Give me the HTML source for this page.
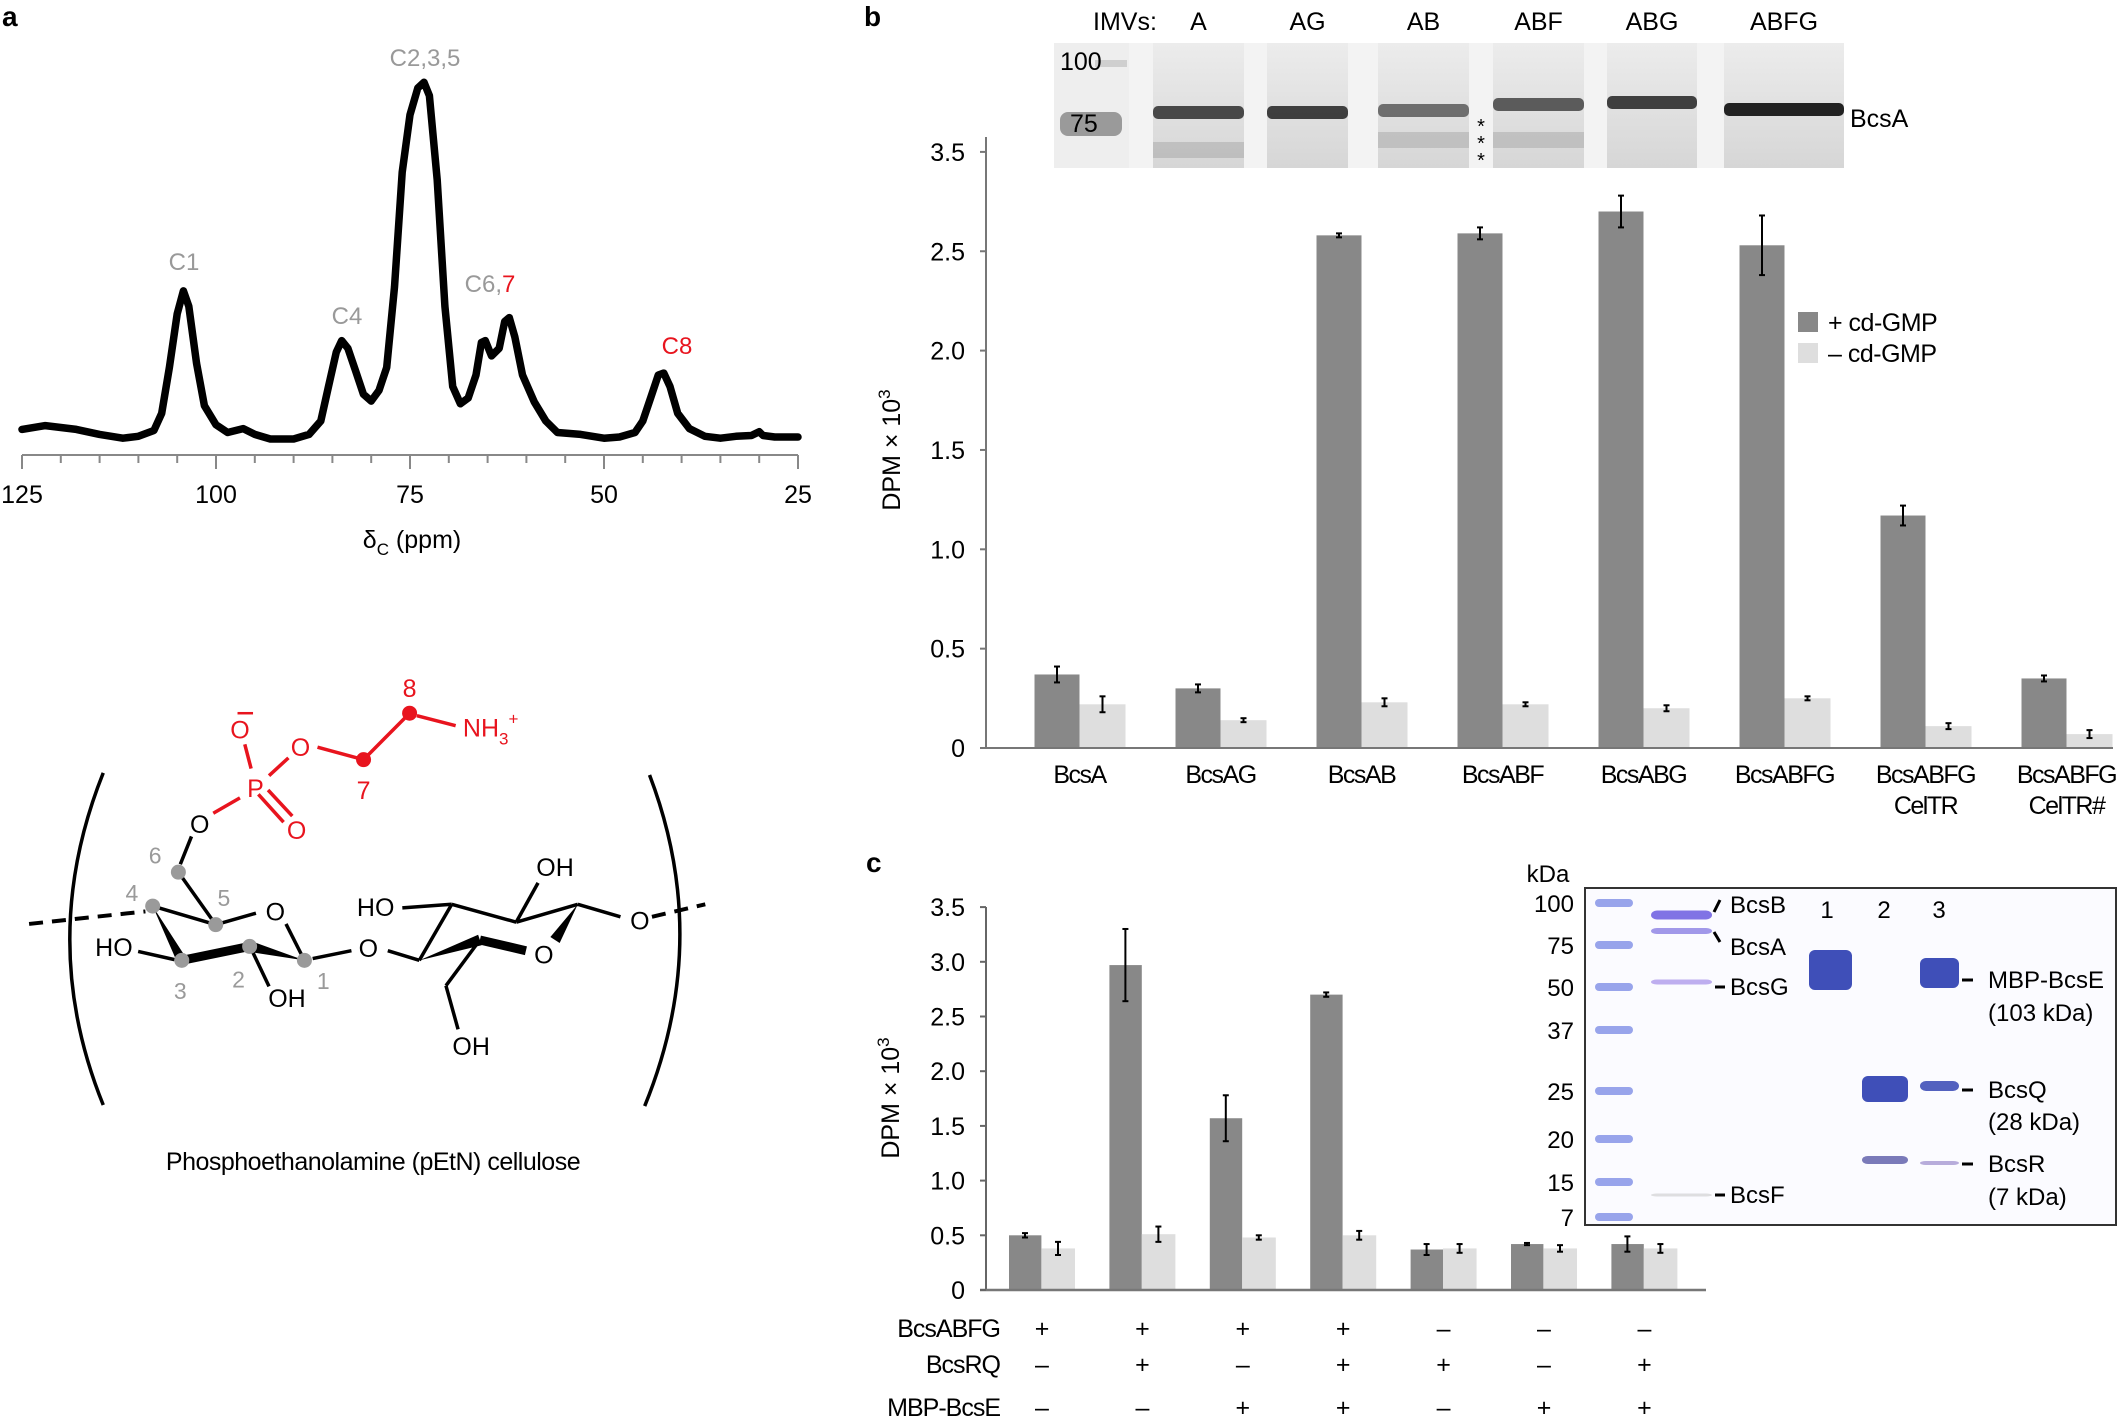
<!DOCTYPE html>
<html><head><meta charset="utf-8">
<style>
html,body{margin:0;padding:0;background:#fff;}
body{width:2119px;height:1417px;position:relative;overflow:hidden;font-family:"Liberation Sans",sans-serif;}
svg{position:absolute;left:0;top:0;}
</style></head>
<body>
<svg id="fig" width="2119" height="1417" viewBox="0 0 2119 1417" xmlns="http://www.w3.org/2000/svg" font-family="Liberation Sans, sans-serif">
<defs>
<linearGradient id="laneg" x1="0" y1="0" x2="0" y2="1">
<stop offset="0" stop-color="#ececec"/><stop offset="1" stop-color="#d6d6d6"/>
</linearGradient>
</defs>
<text x="2" y="26" font-size="28" font-weight="bold">a</text>
<text x="864" y="26" font-size="28" font-weight="bold">b</text>
<text x="866" y="872" font-size="28" font-weight="bold">c</text>
<g id="pa"></g>
<g id="chem"></g>
<g id="gelb"></g>
<g id="pb"></g>
<g id="pc"></g>
<g id="gelc"></g>
</svg>
<script>
const NS='http://www.w3.org/2000/svg';
function mk(tag,attrs,parent,txt){const e=document.createElementNS(NS,tag);for(const k in attrs)e.setAttribute(k,attrs[k]);if(txt!==undefined)e.textContent=txt;parent.appendChild(e);return e;}

/* ---------- Panel a: NMR spectrum ---------- */
const ppmValues=[125,122,118,115,112,110,108,107,106,105,104.2,103.5,102.5,101.5,100,98.5,96.5,95,93,90,88,86.5,85.5,84.5,83.8,83,82,81,80,79,78,77,76,75,74,73.2,72.5,71.5,70.5,69.5,68.5,67.5,66.5,65.8,65.3,64.5,63.5,62.8,62.2,61.5,60.5,59,57.5,56,53,50,48,46,45,44,43,42.3,41.5,40.5,39,37,35,33,31,30,29.5,28,25];
const intensities=[2.8,3.8,2.8,1.5,0.5,1,2.5,7,19,33,39,35,20,9,4,2,3,1.5,0.3,0.3,1.5,5,14,23,26,24,18,12,10.2,13,19,40,70,85,92,93.5,90,68,35,14,9.5,11,17,25.5,26,22,24,31,32,27,17,10,5,2,1.5,0.5,0.8,2,5,11,17,17.5,14,7,3,1,0.5,1,1.2,2.2,1.2,0.8,0.8];
const ppmTicksMajor=[125,100,75,50,25];
const pa=document.getElementById('pa');
const xA=p=>22+(125-p)*7.76;
const yA=v=>(1150-v*10)/2.613;
{
 let d='';ppmValues.forEach((p,i)=>{d+=(i?'L':'M')+xA(p).toFixed(1)+' '+yA(intensities[i]).toFixed(1);});
 const s=mk('path',{d:d,fill:'none',stroke:'#000','stroke-width':7.5,'stroke-linejoin':'round','stroke-linecap':'round'},pa);
 
 
 const ax=mk('line',{x1:xA(125),x2:xA(25),y1:455,y2:455,stroke:'#888','stroke-width':2},pa);
 
 
 for(let p=125;p>=25;p-=5){
  const major=ppmTicksMajor.includes(p);
  const t=mk('line',{x1:xA(p),x2:xA(p),y1:455,y2:major?469:463,stroke:'#888','stroke-width':2},pa);
  
  
 }
 ppmTicksMajor.forEach(p=>{
  const t=mk('text',{x:xA(p),y:503,'font-size':25,'text-anchor':'middle'},pa,String(p));
  
  
 });
 const tt=mk('text',{x:412,y:548,'font-size':25,'text-anchor':'middle'},pa);
 
 
 tt.innerHTML='δ<tspan font-size="17" dy="7">C</tspan><tspan dy="-7"> (ppm)</tspan>';
 const labs=[['C1',184,270,'#999'],['C4',347,324,'#999'],['C2,3,5',425,66,'#999'],['C8',677,354,'#e8141e']];
 labs.forEach(l=>{const t=mk('text',{x:l[1],y:l[2],'font-size':24,'text-anchor':'middle',fill:l[3]},pa,l[0]);
  
  });
 const c67=mk('text',{x:490,y:292,'font-size':24,'text-anchor':'middle',fill:'#999'},pa);
 
 
 c67.innerHTML='C6,<tspan fill="#e8141e">7</tspan>';
}

/* ---------- Chemical structure ---------- */
const chem=document.getElementById('chem');
const P=(x,y)=>[x/2.063,640+y/2.8];
function bond(a,b,c,d,col,w,dash){const p=P(a,b),q=P(c,d);const e=mk('line',{x1:p[0],y1:p[1],x2:q[0],y2:q[1],stroke:col||'#000','stroke-width':w||3.5},chem);if(dash)e.setAttribute('stroke-dasharray',dash);return e;}
function wedge(a,b,c,d,w){const p=P(a,b),q=P(c,d);const dx=q[0]-p[0],dy=q[1]-p[1],L=Math.hypot(dx,dy),nx=-dy/L*w/2,ny=dx/L*w/2;
 const e=mk('polygon',{points:`${p[0]},${p[1]} ${q[0]+nx},${q[1]+ny} ${q[0]-nx},${q[1]-ny}`,fill:'#000'},chem);}
function thick(a,b,c,d){bond(a,b,c,d,'#000',9);}
function lab(t,x,y,col,size){const p=P(x,y);const e=mk('text',{x:p[0],y:p[1]+9,'font-size':size||25,'text-anchor':'middle',fill:col||'#000'},chem,t);return e;}
function dot(x,y,col){const p=P(x,y);const e=mk('circle',{cx:p[0],cy:p[1],r:7.5,fill:col},chem);}
{const a=P(213,372),m=P(75,840),b=P(213,1302);const e=mk('path',{d:`M${a[0]} ${a[1]} Q${m[0]} ${m[1]} ${b[0]} ${b[1]}`,fill:'none',stroke:'#000','stroke-width':3.5},chem);
 const c=P(1340,378),n=P(1470,840),d=P(1330,1305);const f=mk('path',{d:`M${c[0]} ${c[1]} Q${n[0]} ${n[1]} ${d[0]} ${d[1]}`,fill:'none',stroke:'#000','stroke-width':3.5},chem);}
bond(60,795,300,760,'#000',4,'14 9');
bond(315,745,445,797);bond(445,797,528,765);bond(590,795,628,897);
bond(368,650,445,797);bond(372,628,395,550);
wedge(315,745,375,897,10);thick(375,897,515,858);wedge(628,897,515,858,11);
bond(285,872,360,895);bond(520,870,555,970);bond(645,892,725,870);
bond(800,870,865,897);bond(865,897,932,740);bond(830,750,932,740);bond(932,740,1065,790);
bond(1065,790,1110,680);bond(1065,790,1192,740);bond(1192,740,1280,775);
bond(1345,775,1455,740,'#000',4,'14 9');wedge(1192,740,1145,840,11);
wedge(865,897,990,840,11);thick(990,840,1085,870);bond(990,840,920,968);bond(920,968,945,1090);
lab('O',568,760);lab('O',412,515);lab('HO',235,860);lab('OH',592,1002);lab('O',760,862);lab('HO',775,748);lab('OH',1145,636);lab('O',1320,785);lab('O',1122,880);lab('OH',972,1137);
const R='#e8141e';
bond(518,360,505,292,R);bond(555,380,595,330,R);bond(655,300,750,335,R);bond(750,335,845,205,R);bond(860,212,940,240,R);bond(495,442,440,485,R);
bond(533,432,585,510,R);bond(553,420,603,493,R);
lab('P',527,415,R);lab('O',495,250,R);lab('O',620,300,R);lab('O',612,532,R);
{const p=P(490,205),q=P(522,205);const e=mk('line',{x1:p[0],y1:p[1],x2:q[0],y2:q[1],stroke:R,'stroke-width':2.5},chem);}
{const p=P(955,245);const e=mk('text',{x:p[0],y:p[1]+9,'font-size':25,fill:R},chem);e.innerHTML='NH<tspan font-size="17" dy="8">3</tspan><tspan font-size="17" dy="-20">+</tspan>';}
dot(750,335,R);dot(845,205,R);
lab('8',845,135,R);lab('7',750,420,R);
const G='#9a9a9a';
[[368,650],[315,745],[445,797],[375,897],[515,858],[628,897]].forEach(c=>dot(c[0],c[1],G));
lab('6',320,600,G,23);lab('4',272,705,G,23);lab('5',462,720,G,23);lab('3',372,980,G,23);lab('2',492,948,G,23);lab('1',667,952,G,23);
{const e=mk('text',{x:373,y:1170,'font-size':25,'text-anchor':'middle','letter-spacing':'-0.5'},chem,'Phosphoethanolamine (pEtN) cellulose');}

/* ---------- Gel b ---------- */
const gelb=document.getElementById('gelb');
{
 const bg=mk('rect',{x:1054,y:43,width:790,height:125,fill:'#f3f3f3'},gelb);
 
 
 const mkr=mk('rect',{x:1054,y:43,width:75,height:125,fill:'#eeeeee'},gelb);
 
 
 const mb=mk('rect',{x:1060,y:112,width:62,height:24,rx:8,fill:'#9a9a9a'},gelb);
 
 
 const mb2=mk('rect',{x:1095,y:60,width:32,height:7,fill:'#cfcfcf'},gelb);
 
 
 const lanes=[[1153,1244,0.8],[1267,1348,0.85],[1378,1469,0.6],[1493,1584,0.7],[1607,1697,0.85],[1724,1844,1]];
 const bandY=[112,112,110,104,102,109];
 const lnames=['A','AG','AB','ABF','ABG','ABFG'];
 lanes.forEach((l,i)=>{
  const r=mk('rect',{x:l[0],y:43,width:l[1]-l[0],height:125,fill:'url(#laneg)'},gelb);
  
  
  const b=mk('rect',{x:l[0],y:bandY[i]-6,width:l[1]-l[0],height:13,rx:5,fill:'#222','fill-opacity':l[2]},gelb);
  
  
  const t=mk('text',{x:(l[0]+l[1])/2,y:30,'font-size':25,'text-anchor':'middle'},gelb,lnames[i]);
  
  
 });
 [[1153,1244,150],[1378,1469,140],[1493,1584,140]].forEach(l=>{const b=mk('rect',{x:l[0],y:l[2]-8,width:l[1]-l[0],height:16,fill:'#999','fill-opacity':0.4},gelb);});
 const tx=[['IMVs:',1093,30,'start'],['100',1060,70,'start'],['75',1070,132,'start'],['BcsA',1850,127,'start']];
 tx.forEach(a=>{const t=mk('text',{x:a[1],y:a[2],'font-size':25,'text-anchor':a[3]},gelb,a[0]);});
 [133,150,167].forEach(y=>{const t=mk('text',{x:1481,y:y,'font-size':20,'text-anchor':'middle'},gelb,'*');});
}

/* ---------- Panel b bar chart ---------- */
const bCategories=[['BcsA'],['BcsAG'],['BcsAB'],['BcsABF'],['BcsABG'],['BcsABFG'],['BcsABFG','CelTR'],['BcsABFG','CelTR#']];
const bPlus=[0.37,0.30,2.58,2.59,2.70,2.53,1.17,0.35];
const bPlusErr=[0.04,0.02,0.01,0.03,0.08,0.15,0.05,0.015];
const bMinus=[0.22,0.14,0.23,0.22,0.20,0.25,0.11,0.07];
const bMinusErr=[0.04,0.01,0.02,0.01,0.015,0.01,0.015,0.02];
const bTickValues=[0,0.5,1,1.5,2,2.5,3];
const bTickLabels=['0','0.5','1.0','1.5','2.0','2.5','3.5'];
const pb=document.getElementById('pb');
const yB=v=>748-v*198.7;
const xB=i=>1034.5+i*141;
function errbar(g,cx,v,e,ys){const a=mk('line',{x1:cx,x2:cx,y1:ys(v+e),y2:ys(v-e),stroke:'#000','stroke-width':2},g);
 [v+e,v-e].forEach(w=>{const c=mk('line',{x1:cx-3,x2:cx+3,y1:ys(w),y2:ys(w),stroke:'#000','stroke-width':2},g);});}
{
 bPlus.forEach((v,i)=>{
  const r=mk('rect',{x:xB(i),y:yB(v),width:45,height:yB(0)-yB(v),fill:'#888'},pb);
  
  
  const r2=mk('rect',{x:xB(i)+45,y:yB(bMinus[i]),width:46,height:yB(0)-yB(bMinus[i]),fill:'#dedede'},pb);
  
  
  errbar(pb,xB(i)+22.5,v,bPlusErr[i],yB);
  errbar(pb,xB(i)+68,bMinus[i],bMinusErr[i],yB);
  bCategories[i].forEach((s,k)=>{const t=mk('text',{x:xB(i)+45,y:783+k*31,'font-size':25,'text-anchor':'middle','letter-spacing':'-1.5'},pb,s);
   
   });
 });
 const ya=mk('line',{x1:986,x2:986,y1:137,y2:748,stroke:'#777','stroke-width':2},pb);
 
 
 const xa=mk('line',{x1:986,x2:2113,y1:748,y2:748,stroke:'#777','stroke-width':2},pb);
 
 
 bTickValues.forEach((v,i)=>{
  const t=mk('line',{x1:980,x2:986,y1:yB(v),y2:yB(v),stroke:'#777','stroke-width':2},pb);
  
  
  const l=mk('text',{x:965,y:yB(v)+9,'font-size':25,'text-anchor':'end'},pb,bTickLabels[i]);
  
  
 });
 const yt=mk('text',{x:0,y:0,'font-size':25,'text-anchor':'middle',transform:'translate(900,450) rotate(-90)'},pb);
 
 
 yt.innerHTML='DPM × 10<tspan font-size="17" dy="-10">3</tspan>';
 const lg=[['+ cd-GMP','#888',322],['– cd-GMP','#dedede',353]];
 lg.forEach(a=>{const s=mk('rect',{x:1798,y:a[2]-10,width:20,height:20,fill:a[1]},pb);
  const t=mk('text',{x:1828,y:a[2]+9,'font-size':25,'letter-spacing':'-0.5'},pb,a[0]);});
}

/* ---------- Panel c bar chart ---------- */
const cPlus=[0.50,2.97,1.57,2.70,0.37,0.42,0.42];
const cPlusErr=[0.02,0.33,0.21,0.02,0.05,0.01,0.07];
const cMinus=[0.38,0.51,0.48,0.50,0.38,0.38,0.38];
const cMinusErr=[0.06,0.07,0.02,0.04,0.04,0.03,0.04];
const cTickValues=[0,0.5,1,1.5,2,2.5,3,3.5];
const cTickLabels=['0','0.5','1.0','1.5','2.0','2.5','3.0','3.5'];
const cRowNames=['BcsABFG','BcsRQ','MBP-BcsE'];
const cRowSigns=[['+','+','+','+','–','–','–'],['–','+','–','+','+','–','+'],['–','–','+','+','–','+','+']];
const pc=document.getElementById('pc');
const yC=v=>1290-v*109.4;
const xC=i=>1009+i*100.4;
{
 cPlus.forEach((v,i)=>{
  const r=mk('rect',{x:xC(i),y:yC(v),width:32.4,height:yC(0)-yC(v),fill:'#888'},pc);
  
  
  const r2=mk('rect',{x:xC(i)+32.4,y:yC(cMinus[i]),width:33.6,height:yC(0)-yC(cMinus[i]),fill:'#dedede'},pc);
  
  
  errbar(pc,xC(i)+16,v,cPlusErr[i],yC);
  errbar(pc,xC(i)+49,cMinus[i],cMinusErr[i],yC);
 });
 const ya=mk('line',{x1:986,x2:986,y1:907,y2:1290,stroke:'#666','stroke-width':2},pc);
 
 
 const xa=mk('line',{x1:980,x2:1706,y1:1290,y2:1290,stroke:'#777','stroke-width':2.5},pc);
 
 
 cTickValues.forEach((v,i)=>{
  const t=mk('line',{x1:980,x2:986,y1:yC(v),y2:yC(v),stroke:'#666','stroke-width':2},pc);
  
  
  const l=mk('text',{x:965,y:yC(v)+9,'font-size':25,'text-anchor':'end'},pc,cTickLabels[i]);
  
  
 });
 const yt=mk('text',{x:0,y:0,'font-size':25,'text-anchor':'middle',transform:'translate(899,1098) rotate(-90)'},pc);
 
 
 yt.innerHTML='DPM × 10<tspan font-size="17" dy="-10">3</tspan>';
 const rowY=[1337,1373,1416];
 cRowNames.forEach((n,r)=>{
  const t=mk('text',{x:1000,y:rowY[r],'font-size':25,'text-anchor':'end','letter-spacing':'-1'},pc,n);
  
  
  cRowSigns[r].forEach((s,i)=>{const u=mk('text',{x:xC(i)+33,y:rowY[r],'font-size':25,'text-anchor':'middle'},pc,s);
   
   });
 });
}

/* ---------- Gel c ---------- */
const gelc=document.getElementById('gelc');
{
 const box=mk('rect',{x:1585,y:888,width:531,height:337,fill:'#fbfbff',stroke:'#333','stroke-width':2},gelc);
 
 
 const mw=[['100',903],['75',945],['50',987],['37',1030],['25',1091],['20',1139],['15',1182],['7',1217]];
 const kd=mk('text',{x:1548,y:882,'font-size':24,'text-anchor':'middle'},gelc,'kDa');
 
 
 mw.forEach(m=>{
  const t=mk('text',{x:1574,y:m[1]+9,'font-size':24,'text-anchor':'end'},gelc,m[0]);
  
  
  const b=mk('rect',{x:1595,y:m[1]-4,width:38,height:8,rx:4,fill:'#7f8fe6','fill-opacity':0.8},gelc);
  
  
 });
 const bands=[[1651,1712,915,9,'#6a5be0',0.85],[1651,1712,931,6,'#7a6de0',0.7],[1651,1712,982,5,'#a48de8',0.7],[1651,1712,1195,3,'#ccc',0.6],
  [1809,1852,950,40,'#3f4fb8',1],[1862,1908,1076,26,'#3f4fb8',1],[1862,1908,1160,8,'#5a5aa8',0.8],[1920,1959,958,30,'#3f4fb8',1],[1920,1959,1086,10,'#4050b8',0.9],[1920,1959,1163,4,'#9a8acc',0.7]];
 bands.forEach(b=>{const r=mk('rect',{x:b[0],y:b[2]-(b[3]>10?0:b[3]/2),width:b[1]-b[0],height:b[3],rx:6,fill:b[4],'fill-opacity':b[5]},gelc);
  
  });
 [['1',1827],['2',1884],['3',1939]].forEach(a=>{const t=mk('text',{x:a[1],y:918,'font-size':24,'text-anchor':'middle'},gelc,a[0]);});
 const ll=[['BcsB',1730,913],['BcsA',1730,955],['BcsG',1730,995],['BcsF',1730,1203],['MBP-BcsE',1988,988],['(103 kDa)',1988,1021],['BcsQ',1988,1098],['(28 kDa)',1988,1130],['BcsR',1988,1172],['(7 kDa)',1988,1205]];
 ll.forEach(a=>{const t=mk('text',{x:a[1],y:a[2],'font-size':24},gelc,a[0]);});
 [[1715,1725,987],[1715,1725,1195],[1962,1973,980],[1962,1973,1090],[1962,1973,1164]].forEach(a=>{const d=mk('line',{x1:a[0],x2:a[1],y1:a[2],y2:a[2],stroke:'#000','stroke-width':3},gelc);});
 [[1714,912,1720,900],[1714,932,1720,942]].forEach(a=>{const d=mk('line',{x1:a[0],y1:a[1],x2:a[2],y2:a[3],stroke:'#000','stroke-width':3},gelc);});
}
</script>
</body></html>
